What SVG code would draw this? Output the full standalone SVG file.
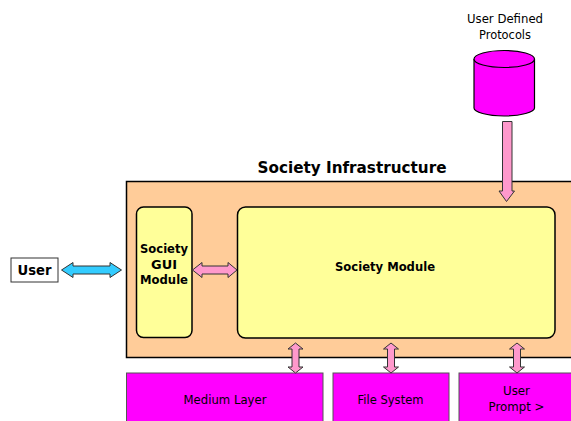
<svg xmlns="http://www.w3.org/2000/svg" width="571" height="421" viewBox="0 0 571 421">
<style>
text{font-family:"DejaVu Sans","Liberation Sans",sans-serif;fill:#000;text-anchor:middle}
.b{font-weight:700;font-size:12px}
.r{font-size:12px}
.mod{fill:#ffff99;stroke:#000;stroke-width:1.5}
.mag{fill:#ff00ff;stroke:#555;stroke-width:1}
.ar{stroke:#333;stroke-width:1;fill:#ff99cc}
</style>
<rect width="571" height="421" fill="#fff"/>
<g id="infrastructure">
<rect x="126.500" y="181.500" width="450" height="176" fill="#ffcc99" stroke="#000" stroke-width="1.500"/>
<text x="352" y="173" font-size="16" font-weight="700" textLength="189" lengthAdjust="spacingAndGlyphs">Society Infrastructure</text>
</g>
<g id="gui">
<rect class="mod" x="136.500" y="207" width="55.500" height="130.500" rx="7"/>
<text class="b" x="164" y="253" textLength="48" lengthAdjust="spacingAndGlyphs">Society</text>
<text class="b" x="164" y="268.500" textLength="26" lengthAdjust="spacingAndGlyphs">GUI</text>
<text class="b" x="164" y="284" textLength="48" lengthAdjust="spacingAndGlyphs">Module</text>
</g>
<g id="society-module">
<rect class="mod" x="237.500" y="207" width="317.500" height="131" rx="8"/>
<text class="b" x="385" y="271" textLength="100" lengthAdjust="spacingAndGlyphs">Society Module</text>
</g>
<g id="user">
<rect x="11" y="258" width="47" height="24" fill="#fff" stroke="#333"/>
<text x="34.500" y="275" font-size="14" font-weight="700" textLength="34" lengthAdjust="spacingAndGlyphs">User</text>
</g>
<g id="protocols">
<path d="M474 59V108C474 112 487 116 504 116S534.500 112 534.500 108V59" fill="#ff00ff" stroke="#000" stroke-width="1.200"/>
<ellipse cx="504.250" cy="59" rx="30.250" ry="8.500" fill="#ff00ff" stroke="#000" stroke-width="1.200"/>
<text class="r" x="505" y="23" textLength="76" lengthAdjust="spacingAndGlyphs">User Defined</text>
<text class="r" x="505" y="39" textLength="52" lengthAdjust="spacingAndGlyphs">Protocols</text>
</g>
<g id="medium">
<rect class="mag" x="126.500" y="373" width="196.500" height="60"/>
<text class="r" x="225" y="404" textLength="83" lengthAdjust="spacingAndGlyphs">Medium Layer</text>
</g>
<g id="file-system">
<rect class="mag" x="333" y="373" width="116" height="60"/>
<text class="r" x="390.500" y="404" textLength="66" lengthAdjust="spacingAndGlyphs">File System</text>
</g>
<g id="prompt">
<rect class="mag" x="459" y="373" width="120" height="60"/>
<text class="r" x="516.500" y="395" textLength="27" lengthAdjust="spacingAndGlyphs">User</text>
<text class="r" x="516.500" y="411" textLength="56" lengthAdjust="spacingAndGlyphs">Prompt &gt;</text>
</g>
<g id="connectors">
<path d="M61.500 270L73 262.500V266H110V262.500L121.500 270L110 277.500V274H73V277.500Z" fill="#33ccff" stroke="#333"/>
<path class="ar" d="M192.500 270L202 262.500V266H228V262.500L237 270L228 277.500V274H202V277.500Z"/>
<path class="ar" d="M502.500 121.500H512V191H514.500L506.500 201.500L499 191H502.500Z"/>
<path class="ar" d="M295.500 343L303 349H299V367H303L295.500 373L288 367H292V349H288Z"/>
<path class="ar" d="M391 343L398.500 349H394.500V367H398.500L391 373L383.500 367H387.500V349H383.500Z"/>
<path class="ar" d="M517 343L524.500 349H520.500V367H524.500L517 373L509.500 367H513.500V349H509.500Z"/>
</g>
</svg>
